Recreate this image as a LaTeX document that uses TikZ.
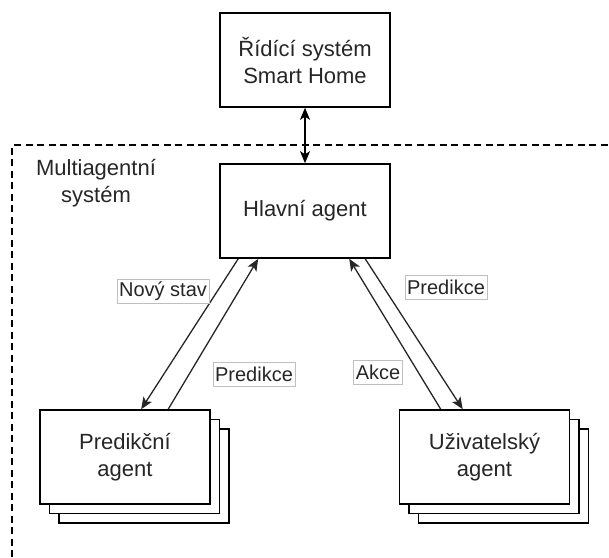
\documentclass[tikz,border=0pt]{standalone}
\usepackage{fontspec}
\setmainfont{Liberation Sans}
\usetikzlibrary{arrows.meta}
\begin{document}
\begin{tikzpicture}[x=1pt,y=-1pt,
  box/.style={draw=black,line width=1.6pt,fill=white,minimum width=170pt,minimum height=94pt,
    inner sep=0pt,align=center,font=\fontsize{22}{27}\selectfont,text=black!85},
  lbl/.style={draw=black!25,line width=0.8pt,fill=white,inner xsep=2pt,inner ysep=0pt,
    minimum height=24pt,font=\fontsize{20}{24}\selectfont,text=black!85},
  conn/.style={line width=1.3pt,draw=black!85,-{Stealth[length=12pt,width=10pt,inset=3pt]}},
  frame/.style={line width=1.1pt,dash pattern=on 7pt off 4.5pt}]
\useasboundingbox (0,0) rectangle (609,557);

% system boundary (dashed)
\draw[frame] (12,557) -- (12,145) -- (609,145);
\node[font=\fontsize{22}{27}\selectfont,align=center,text=black!85] (mas) at (96,183) {Multiagentní\\systém};

% main boxes
\node[box] (ctl) at (305,60) {Řídící systém\\Smart Home};
\node[box] (hl) at (305,211) {Hlavní agent};

% stacked prediction agents
\node[box] (pa3) at (144,476) {};
\node[box] (pa2) at (134.5,466.5) {};
\node[box] (pa) at (125,457) {Predikční\\agent};

% stacked user agents
\node[box] (ua3) at (503.5,476) {};
\node[box] (ua2) at (494,466.5) {};
\node[box] (ua) at (484.5,457) {Uživatelský\\agent};

% link to the home control system
\draw[line width=1.3pt,{Stealth[length=12pt,width=10pt,inset=3pt]}-{Stealth[length=12pt,width=10pt,inset=3pt]}] (ctl.south) -- (hl.north);

% attachment points on the box edges
\path (hl.south west) ++(19,0) coordinate (h1);
\path (hl.south west) ++(39,0) coordinate (h2);
\path (hl.south west) ++(130,0) coordinate (h3);
\path (hl.south west) ++(146,0) coordinate (h4);
\path (pa.north west) ++(102,0) coordinate (p1);
\path (pa.north west) ++(129,0) coordinate (p2);
\path (ua.north west) ++(42,0) coordinate (u1);
\path (ua.north west) ++(64,0) coordinate (u2);

\draw[conn] (h1) -- (p1);
\draw[conn] (p2) -- (h2);
\draw[conn] (u1) -- (h3);
\draw[conn] (h4) -- (u2);

% message labels
\node[lbl] (l1) at (163,291) {Nový stav};
\node[lbl] (l2) at (254,374) {Predikce};
\node[lbl] (l3) at (446,287) {Predikce};
\node[lbl] (l4) at (378,372) {Akce};
\end{tikzpicture}
\end{document}
